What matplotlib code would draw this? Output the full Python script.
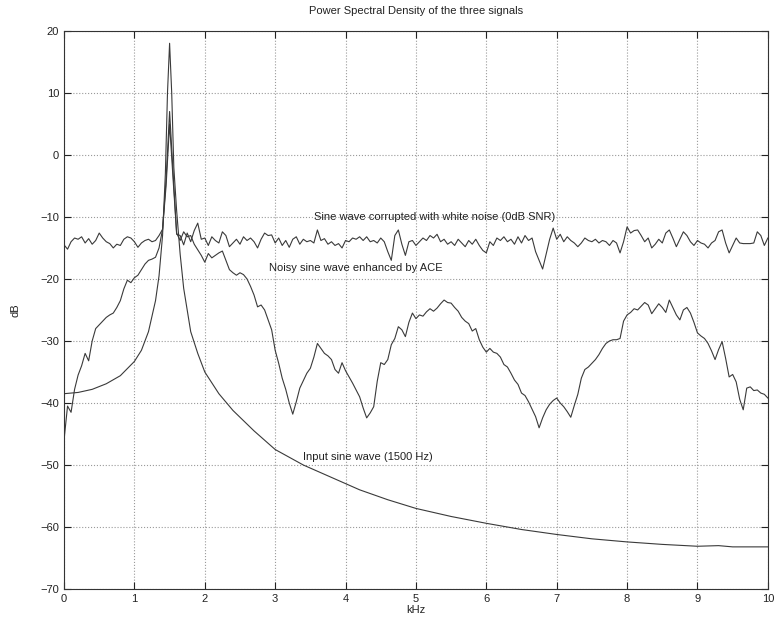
import numpy as np
import matplotlib
matplotlib.use('Agg')
import matplotlib.pyplot as plt

plt.rcParams['font.family'] = ['Liberation Sans', 'DejaVu Sans']

# frequency bins (kHz) for the two noisy spectra
freq_khz = np.linspace(0, 10, 201)

# sine + white noise, 0dB SNR
noisy_db = [
    -14.5, -15.2, -14.0, -13.4, -13.6, -13.2, -14.2, -13.5, -14.4, -13.8,
    -12.6, -13.4, -14.0, -14.3, -15.0, -14.4, -14.6, -13.6, -13.2, -13.4,
    -14.0, -14.9, -14.2, -13.8, -13.6, -14.0, -13.8, -13.0, -12.0, -4.0,
    7.0, -3.0, -12.8, -13.0, -14.5, -12.6, -14.0, -12.2, -11.0, -13.6,
    -13.4, -14.6, -13.2, -13.8, -14.2, -12.4, -13.0, -14.8, -14.2, -13.6,
    -14.4, -13.2, -13.8, -13.4, -14.0, -15.0, -13.6, -12.6, -13.0, -12.9,
    -14.2, -13.4, -14.6, -13.8, -14.9, -13.6, -13.2, -14.4, -13.6, -14.0,
    -13.8, -14.2, -12.1, -13.8, -13.5, -14.4, -14.0, -14.6, -14.3, -15.0,
    -13.8, -14.0, -13.4, -13.6, -13.2, -13.8, -13.2, -14.0, -13.8, -14.2,
    -13.4, -14.0, -15.6, -17.0, -13.0, -12.1, -14.4, -16.2, -14.0, -13.8,
    -14.6, -14.0, -13.4, -13.8, -13.0, -13.4, -12.8, -14.0, -13.6, -14.4,
    -14.0, -14.6, -13.6, -14.2, -14.8, -13.8, -14.4, -13.6, -14.6, -15.4,
    -15.8, -14.0, -14.6, -13.4, -13.8, -13.2, -14.0, -13.6, -14.4, -13.2,
    -14.2, -13.0, -13.8, -13.4, -15.6, -17.0, -18.4, -16.0, -13.6, -11.8,
    -13.6, -12.8, -14.0, -13.2, -13.8, -14.2, -14.8, -14.2, -13.4, -13.8,
    -14.0, -13.6, -14.2, -13.8, -14.0, -14.6, -13.8, -14.2, -15.8, -14.0,
    -11.6, -12.6, -12.2, -12.1, -13.0, -14.0, -13.4, -15.0, -14.4, -13.6,
    -14.2, -12.6, -12.1, -13.4, -14.8, -13.6, -12.4, -13.0, -14.0, -14.6,
    -13.8, -14.2, -14.4, -15.0, -14.2, -13.8, -12.4, -12.1, -14.2, -15.8,
    -14.6, -13.4, -14.2, -14.3, -14.3, -14.3, -14.2, -12.4, -13.0, -14.6,
    -13.4,
]

# output of the ACE filter
ace_db = [
    -46.0, -40.5, -41.5, -37.8, -35.5, -34.0, -32.0, -33.2, -30.0, -28.0,
    -27.4, -26.8, -26.2, -25.8, -25.5, -24.6, -23.5, -21.6, -20.2, -20.6,
    -19.8, -19.4, -18.5, -17.6, -17.0, -16.8, -16.5, -15.0, -12.0, -5.0,
    5.0, -4.0, -12.6, -13.8, -12.4, -13.2, -13.0, -14.4, -15.3, -16.2,
    -17.3, -15.9, -16.6, -16.2, -15.8, -15.5, -17.0, -18.5, -19.0, -19.4,
    -19.0, -19.3, -20.0, -21.2, -22.6, -24.5, -24.2, -25.0, -26.6, -28.2,
    -31.5, -33.6, -36.0, -37.8, -40.0, -41.8, -39.8, -37.6, -36.4, -35.2,
    -34.4, -32.6, -30.4, -31.2, -32.0, -32.4, -33.0, -34.6, -35.2, -33.5,
    -34.8, -35.8, -36.8, -37.9, -39.0, -40.8, -42.4, -41.6, -40.6, -36.5,
    -33.5, -33.8, -33.0, -30.6, -29.6, -27.7, -28.2, -29.3, -27.0, -25.5,
    -26.4, -25.8, -26.0, -25.3, -24.8, -25.2, -24.7, -24.0, -23.4, -23.8,
    -23.9, -24.6, -25.2, -26.2, -26.8, -27.2, -28.4, -28.0, -29.8, -31.0,
    -31.8, -31.2, -31.8, -32.0, -32.6, -33.8, -34.2, -35.2, -36.3, -37.0,
    -38.4, -38.8, -39.8, -41.0, -42.2, -44.0, -42.4, -41.1, -40.2, -39.6,
    -39.2, -40.0, -40.6, -41.4, -42.3, -40.4, -38.6, -36.0, -34.6, -34.2,
    -33.6, -33.0, -32.2, -31.2, -30.4, -30.0, -29.8, -29.8, -29.6, -26.8,
    -25.8, -25.4, -24.8, -25.0, -24.4, -23.8, -24.2, -25.6, -24.8, -24.0,
    -24.6, -25.4, -23.4, -24.6, -25.8, -26.6, -25.0, -24.6, -25.5, -27.0,
    -28.7, -29.2, -29.6, -30.4, -31.6, -33.0, -31.4, -30.1, -32.8, -35.8,
    -35.4, -36.6, -39.4, -41.1, -37.6, -37.4, -38.0, -37.9, -38.4, -38.6,
    -39.2,
]

# clean 1500 Hz input, sampled more densely around the peak
sine_khz = [0, 0.2, 0.4, 0.6, 0.8, 1.0, 1.1, 1.2, 1.3, 1.35, 1.4, 1.44,
            1.47, 1.5, 1.53, 1.56, 1.6, 1.65, 1.7, 1.8, 1.9, 2.0, 2.2, 2.4,
            2.7, 3.0, 3.4, 3.8, 4.2, 4.6, 5.0, 5.5, 6.0, 6.5, 7.0, 7.5, 8.0,
            8.5, 9.0, 9.3, 9.5, 10.0]
sine_db = [-38.5, -38.3, -37.8, -36.9, -35.6, -33.3, -31.5, -28.5, -23.5,
           -19.5, -13.0, -3.0, 10.0, 18.0, 10.0, -2.0, -9.0, -16.0, -21.5,
           -28.5, -32.0, -35.0, -38.5, -41.2, -44.5, -47.5, -50.0, -52.0,
           -54.0, -55.6, -57.0, -58.3, -59.4, -60.4, -61.2, -61.9, -62.4,
           -62.8, -63.1, -63.0, -63.2, -63.2]

line_color = '#3a3a3a'

fig = plt.figure(figsize=(7.76, 6.3), dpi=100)
ax = fig.add_axes([0.0825, 0.065, 0.907, 0.886])

ax.plot(freq_khz, noisy_db, color=line_color, lw=0.8)
ax.plot(freq_khz, ace_db, color=line_color, lw=0.8)
ax.plot(sine_khz, sine_db, color=line_color, lw=0.8)

ax.set_xlim(0, 10)
ax.set_ylim(-70, 20)
ax.set_xticks(range(0, 11))
ax.set_yticks(range(-70, 21, 10))
ax.grid(True, linestyle=':', color='#9a9a9a', linewidth=0.8)
ax.tick_params(direction='in', top=True, right=True, length=5,
               labelsize=8, colors='#222222')
for s in ax.spines.values():
    s.set_linewidth(0.8)
    s.set_color('#333333')

ax.text(3.55, -10.0, 'Sine wave corrupted with white noise (0dB SNR)',
        fontsize=8, va='center', color='#222222')
ax.text(2.91, -18.2, 'Noisy sine wave enhanced by ACE',
        fontsize=8, va='center', color='#222222')
ax.text(3.39, -48.7, 'Input sine wave (1500 Hz)',
        fontsize=8, va='center', color='#222222')

ax.set_title('Power Spectral Density of the three signals', fontsize=8,
             color='#222222', pad=12)
ax.set_xlabel('kHz', fontsize=8, color='#222222', labelpad=1)
ax.set_ylabel('dB', fontsize=8, color='#222222', labelpad=14)

fig.savefig('out.png', dpi=100)
